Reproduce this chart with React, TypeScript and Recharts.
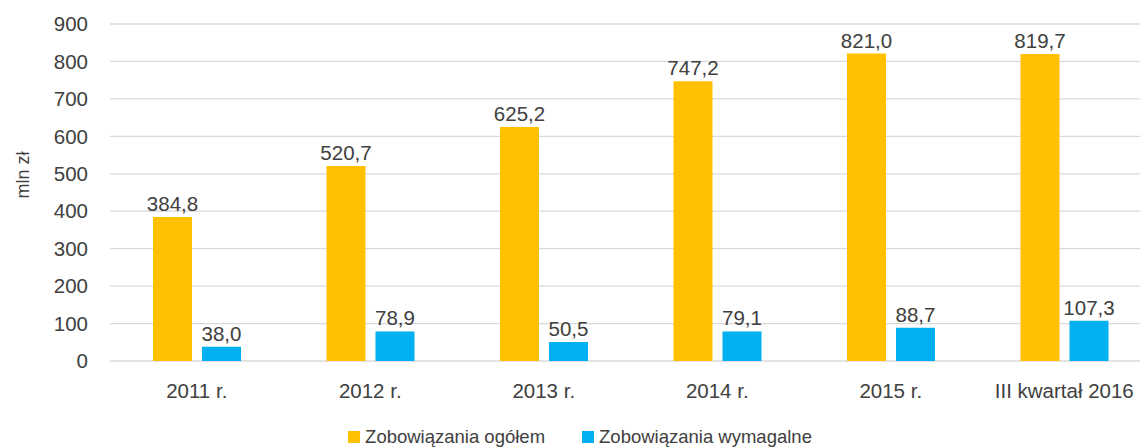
import React from "react";
import { BarChart, Bar, XAxis, YAxis, CartesianGrid, Legend, LabelList, Label } from "recharts";

const categories = ["2011 r.", "2012 r.", "2013 r.", "2014 r.", "2015 r.", "III kwartał 2016"];
const totalLiabilities = [384.8, 520.7, 625.2, 747.2, 821.0, 819.7];
const dueLiabilities = [38.0, 78.9, 50.5, 79.1, 88.7, 107.3];
const yTicks = [0, 100, 200, 300, 400, 500, 600, 700, 800, 900];
const seriesNames = ["Zobowiązania ogółem", "Zobowiązania wymagalne"];
const seriesColors = ["#FFC000", "#00B0F0"];

const data = categories.map((c, i) => ({
  name: c,
  total: totalLiabilities[i],
  due: dueLiabilities[i],
}));

const FONT = "'Liberation Sans', Arial, sans-serif";
const TEXT = "#404040";

const fmt = (v: any) => Number(v).toFixed(1).replace(".", ",");

const LegendContent = (props: any) => {
  const payload = props.payload || [];
  return (
    <div
      style={{
        display: "flex",
        justifyContent: "center",
        alignItems: "center",
        height: 20,
        paddingLeft: 9,
        fontFamily: FONT,
        fontSize: 18.5,
        color: TEXT,
      }}
    >
      {payload.map((p: any, i: number) => (
        <div key={i} style={{ display: "flex", alignItems: "center", marginRight: i === 0 ? 37 : 0 }}>
          <span style={{ width: 12, height: 12, background: p.color, display: "inline-block", marginRight: 5 }} />
          <span style={{ lineHeight: "20px" }}>{p.value}</span>
        </div>
      ))}
    </div>
  );
};

export default function App() {
  return (
    <div style={{ position: "absolute", left: 0, top: 0, width: 1140, height: 448, overflow: "hidden", background: "#fff" }}>
      <BarChart
        width={1160}
        height={448}
        data={data}
        margin={{ top: 24, right: 9, bottom: 1, left: 0 }}
        barSize={39}
        barGap={10}
      >
        <CartesianGrid vertical={false} stroke="#D9D9D9" strokeWidth={1.3} />
        <XAxis
          dataKey="name"
          axisLine={false}
          tickLine={false}
          tickSize={0}
          tickMargin={22}
          height={66}
          interval={0}
          tick={{ fill: TEXT, fontSize: 20.5, fontFamily: FONT }}
        />
        <YAxis
          width={110}
          domain={[0, 900]}
          ticks={yTicks}
          axisLine={false}
          tickLine={false}
          tickSize={0}
          tickMargin={22}
          tick={{ fill: TEXT, fontSize: 20.5, fontFamily: FONT }}
        >
          <Label
            content={() => (
              <text
                x={23}
                y={175}
                transform="rotate(-90 23 175)"
                textAnchor="middle"
                dominantBaseline="central"
                fill={TEXT}
                fontSize={18}
                fontFamily={FONT}
              >
                mln zł
              </text>
            )}
          />
        </YAxis>
        <Legend verticalAlign="bottom" height={20} content={<LegendContent />} />
        <Bar dataKey="total" name={seriesNames[0]} fill={seriesColors[0]} isAnimationActive={false}>
          <LabelList dataKey="total" position="top" offset={6} formatter={fmt} fill={TEXT} fontSize={20.5} fontFamily={FONT} />
        </Bar>
        <Bar dataKey="due" name={seriesNames[1]} fill={seriesColors[1]} isAnimationActive={false}>
          <LabelList dataKey="due" position="top" offset={6} formatter={fmt} fill={TEXT} fontSize={20.5} fontFamily={FONT} />
        </Bar>
      </BarChart>
    </div>
  );
}
